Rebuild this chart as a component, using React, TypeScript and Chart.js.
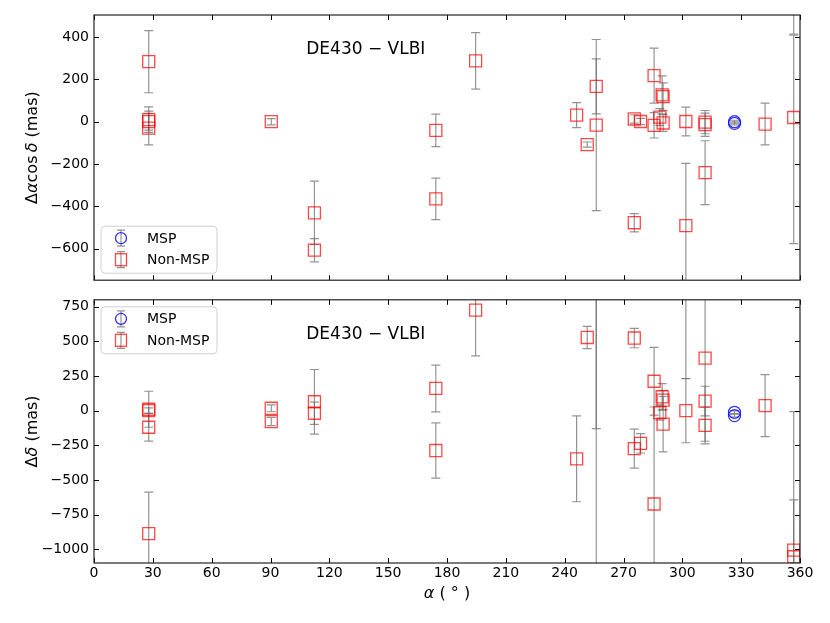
import { useEffect, useRef } from "react";
import { Chart, registerables } from "chart.js";

Chart.register(...registerables);

// ---------- data ----------
const xTicks = [0, 30, 60, 90, 120, 150, 180, 210, 240, 270, 300, 330, 360];
const topYTicks = [-600, -400, -200, 0, 200, 400];
const botYTicks = [-1000, -750, -500, -250, 0, 250, 500, 750];

// Top panel: Δα cos δ (mas), Non-MSP
const topNonX = [27.9, 27.9, 27.9, 27.9, 90.4, 112.4, 112.4, 174.3, 174.3, 194.6, 246.1, 251.5, 256.1, 256.1, 275.5, 275.5, 278.7, 285.6, 285.6, 288.5, 289.7, 290.2, 290.2, 301.8, 301.8, 311.6, 311.6, 311.6, 342.2, 356.8, 356.8];
const topNonY = [284, 10, 0, -30, 0, -431, -608, -41, -365, 288, 31, -108, 167, -16, 13, -478, 1, 218, -17, 22, 127, 119, -6, 1, -492, -2, -14, -241, -11, 20, 1300];
const topNonLo = [147, 60, 40, 80, 15, 150, 55, 77, 98, 134, 59, 12, 130, 405, 20, 43, 15, 130, 60, 40, 90, 65, 40, 68, 295, 55, 55, 151, 99, 597, 885];
const topNonHi = [147, 60, 40, 80, 15, 150, 55, 77, 98, 134, 59, 12, 130, 405, 20, 43, 15, 130, 60, 40, 90, 65, 40, 68, 295, 55, 55, 151, 99, 390, 885];

// Top panel: MSP
const topMspX = [326.6, 326.6];
const topMspY = [0, -8];
const topMspErr = [7, 7];

// Bottom panel: Δδ (mas), Non-MSP
const botNonX = [27.9, 27.9, 27.9, 27.9, 90.4, 90.4, 112.4, 112.4, 174.3, 174.3, 194.6, 246.1, 251.5, 256.1, 256.1, 275.5, 275.5, 278.7, 285.6, 285.6, 288.5, 289.7, 290.2, 290.2, 301.8, 301.8, 311.6, 311.6, 311.6, 342.2, 356.8, 356.8];
const botNonY = [10, 0, -120, -888, 17, -79, 64, -19, 160, -288, 726, -348, 528, 1500, -1400, 524, -274, -236, 212, -674, -14, 100, 76, -98, 0, 1500, 379, 69, -107, 36, -1007, -1055];
const botNonErr = [130, 20, 100, 300, 25, 30, 233, 80, 169, 199, 331, 310, 80, 1630, 2300, 70, 141, 70, 245, 700, 55, 95, 70, 200, 232, 1270, 600, 107, 133, 224, 1000, 410];

// Bottom panel: MSP
const botMspX = [326.6, 326.6];
const botMspY = [-12, -36];
const botMspErr = [10, 10];

// ---------- styles ----------
const FONT = "'DejaVu Sans', 'Liberation Sans', sans-serif";
const RED = "rgba(255,0,0,0.72)";
const BLUE = "rgba(0,0,255,0.8)";
const ERR = "rgba(105,105,105,0.72)";

type Seg = { t: string; it?: boolean };

function drawRich(ctx: CanvasRenderingContext2D, segs: Seg[], size: number, cx: number, cy: number, rot: number) {
  ctx.save();
  ctx.translate(cx, cy);
  ctx.rotate(rot);
  let total = 0;
  const widths = segs.map((s) => {
    ctx.font = `${s.it ? "italic " : ""}${size}px ${FONT}`;
    const w = ctx.measureText(s.t).width;
    total += w;
    return w;
  });
  let x = -total / 2;
  ctx.fillStyle = "#000";
  ctx.textBaseline = "middle";
  ctx.textAlign = "left";
  segs.forEach((s, i) => {
    ctx.font = `${s.it ? "italic " : ""}${size}px ${FONT}`;
    ctx.fillText(s.t, x, 0);
    x += widths[i];
  });
  ctx.restore();
}

function fmt(v: number) {
  return v < 0 ? "\u2212" + Math.abs(v) : String(v);
}

function makeErrPlugin() {
  return {
    id: "errbars",
    beforeDatasetsDraw(chart: any) {
      const { ctx, chartArea: a } = chart;
      const xs = chart.scales.x;
      const ys = chart.scales.y;
      ctx.save();
      ctx.beginPath();
      ctx.rect(a.left, a.top, a.right - a.left, a.bottom - a.top);
      ctx.clip();
      ctx.strokeStyle = ERR;
      ctx.lineWidth = 1.2;
      chart.data.datasets.forEach((ds: any) => {
        ds.data.forEach((p: any, i: number) => {
          const px = xs.getPixelForValue(p.x);
          const y1 = ys.getPixelForValue(p.y + ds.errHi[i]);
          const y2 = ys.getPixelForValue(p.y - ds.errLo[i]);
          ctx.beginPath();
          ctx.moveTo(px, y1);
          ctx.lineTo(px, y2);
          ctx.moveTo(px - 4.5, y1);
          ctx.lineTo(px + 4.5, y1);
          ctx.moveTo(px - 4.5, y2);
          ctx.lineTo(px + 4.5, y2);
          ctx.stroke();
        });
      });
      ctx.restore();
    },
  };
}

function makeDecorPlugin(yTicks: number[], showXLabels: boolean, legendAtBottom: boolean, yTitle: Seg[], xTitle: Seg[] | null) {
  return {
    id: "decor",
    afterDraw(chart: any) {
      const { ctx, chartArea: a } = chart;
      const xs = chart.scales.x;
      const ys = chart.scales.y;
      ctx.save();
      // inward ticks
      ctx.strokeStyle = "#000";
      ctx.lineWidth = 1;
      ctx.beginPath();
      xTicks.forEach((v) => {
        const px = Math.round(xs.getPixelForValue(v)) + 0.5;
        ctx.moveTo(px, a.bottom);
        ctx.lineTo(px, a.bottom - 5);
        ctx.moveTo(px, a.top);
        ctx.lineTo(px, a.top + 5);
      });
      yTicks.forEach((v) => {
        const py = Math.round(ys.getPixelForValue(v)) + 0.5;
        ctx.moveTo(a.left, py);
        ctx.lineTo(a.left + 5, py);
        ctx.moveTo(a.right, py);
        ctx.lineTo(a.right - 5, py);
      });
      ctx.stroke();
      // frame
      ctx.strokeStyle = "#222";
      ctx.lineWidth = 1.2;
      ctx.strokeRect(a.left, a.top, a.right - a.left, a.bottom - a.top);

      // tick labels
      ctx.fillStyle = "#000";
      ctx.font = `14px ${FONT}`;
      ctx.textBaseline = "middle";
      ctx.textAlign = "right";
      yTicks.forEach((v) => {
        ctx.fillText(fmt(v), a.left - 5, ys.getPixelForValue(v));
      });
      if (showXLabels) {
        ctx.textAlign = "center";
        xTicks.forEach((v) => {
          ctx.fillText(fmt(v), xs.getPixelForValue(v), a.bottom + 10);
        });
      }

      // annotation
      ctx.font = `17px ${FONT}`;
      ctx.textAlign = "center";
      ctx.textBaseline = "middle";
      ctx.fillText("DE430 \u2212 VLBI", a.left + (a.right - a.left) * 0.385, a.top + 35);

      // legend
      const lx = a.left + 7;
      const lw = 116;
      const lh = 47;
      const ly = legendAtBottom ? a.bottom - 7 - lh : a.top + 7;
      ctx.beginPath();
      const r = 4;
      ctx.moveTo(lx + r, ly);
      ctx.lineTo(lx + lw - r, ly);
      ctx.quadraticCurveTo(lx + lw, ly, lx + lw, ly + r);
      ctx.lineTo(lx + lw, ly + lh - r);
      ctx.quadraticCurveTo(lx + lw, ly + lh, lx + lw - r, ly + lh);
      ctx.lineTo(lx + r, ly + lh);
      ctx.quadraticCurveTo(lx, ly + lh, lx, ly + lh - r);
      ctx.lineTo(lx, ly + r);
      ctx.quadraticCurveTo(lx, ly, lx + r, ly);
      ctx.closePath();
      ctx.fillStyle = "rgba(255,255,255,0.8)";
      ctx.fill();
      ctx.strokeStyle = "#d0d0d0";
      ctx.lineWidth = 1;
      ctx.stroke();

      const mx = lx + 20;
      const rows = [ly + 12, ly + 33.5];
      rows.forEach((ry, k) => {
        ctx.strokeStyle = ERR;
        ctx.lineWidth = 1.2;
        ctx.beginPath();
        ctx.moveTo(mx, ry - 8);
        ctx.lineTo(mx, ry + 8);
        ctx.moveTo(mx - 4, ry - 8);
        ctx.lineTo(mx + 4, ry - 8);
        ctx.moveTo(mx - 4, ry + 8);
        ctx.lineTo(mx + 4, ry + 8);
        ctx.stroke();
        ctx.lineWidth = 1.3;
        if (k === 0) {
          ctx.strokeStyle = BLUE;
          ctx.beginPath();
          ctx.arc(mx, ry, 5.5, 0, Math.PI * 2);
          ctx.stroke();
        } else {
          ctx.strokeStyle = RED;
          ctx.strokeRect(mx - 5.5, ry - 6, 11, 12);
        }
        ctx.fillStyle = "#000";
        ctx.font = `14px ${FONT}`;
        ctx.textAlign = "left";
        ctx.textBaseline = "middle";
        ctx.fillText(k === 0 ? "MSP" : "Non-MSP", lx + 46, ry + 1);
      });

      // axis titles
      drawRich(ctx, yTitle, 16, 33, (a.top + a.bottom) / 2, -Math.PI / 2);
      if (xTitle) drawRich(ctx, xTitle, 16, (a.left + a.right) / 2, a.bottom + 31, 0);
      ctx.restore();
    },
  };
}

function buildConfig(opts: {
  nonX: number[]; nonY: number[]; nonLo: number[]; nonHi: number[];
  mspX: number[]; mspY: number[]; mspErr: number[];
  yMin: number; yMax: number; yTicks: number[];
  showX: boolean; padTop: number; xHeight: number;
  legendAtBottom: boolean; yTitle: Seg[]; xTitle: Seg[] | null;
}): any {
  return {
    type: "scatter",
    data: {
      datasets: [
        {
          label: "Non-MSP",
          data: opts.nonX.map((x, i) => ({ x, y: opts.nonY[i] })),
          errLo: opts.nonLo,
          errHi: opts.nonHi,
          pointStyle: "rect",
          pointRadius: 8.5,
          pointHoverRadius: 8.5,
          borderColor: RED,
          backgroundColor: "rgba(0,0,0,0)",
          borderWidth: 1.3,
        },
        {
          label: "MSP",
          data: opts.mspX.map((x, i) => ({ x, y: opts.mspY[i] })),
          errLo: opts.mspErr,
          errHi: opts.mspErr,
          pointStyle: "circle",
          pointRadius: 6,
          pointHoverRadius: 6,
          borderColor: BLUE,
          backgroundColor: "rgba(0,0,0,0)",
          borderWidth: 1.3,
        },
      ],
    },
    options: {
      animation: false,
      responsive: false,
      events: [],
      layout: { padding: { left: 0, right: 30, top: opts.padTop, bottom: 0 } },
      plugins: { legend: { display: false }, tooltip: { enabled: false } },
      scales: {
        x: {
          type: "linear",
          min: 0,
          max: 360,
          grid: { display: false, drawTicks: false },
          border: { display: false },
          afterBuildTicks: (s: any) => {
            s.ticks = xTicks.map((v) => ({ value: v }));
          },
          afterFit: (s: any) => {
            s.height = opts.xHeight;
          },
          ticks: { display: false },
        },
        y: {
          type: "linear",
          min: opts.yMin,
          max: opts.yMax,
          grid: { display: false, drawTicks: false },
          border: { display: false },
          afterBuildTicks: (s: any) => {
            s.ticks = opts.yTicks.map((v) => ({ value: v }));
          },
          afterFit: (s: any) => {
            s.width = 94;
          },
          ticks: { display: false },
        },
      },
    },
    plugins: [makeErrPlugin(), makeDecorPlugin(opts.yTicks, opts.showX, opts.legendAtBottom, opts.yTitle, opts.xTitle)],
  };
}

export default function App() {
  const topRef = useRef<HTMLCanvasElement>(null);
  const botRef = useRef<HTMLCanvasElement>(null);

  useEffect(() => {
    const top = new Chart(
      topRef.current as HTMLCanvasElement,
      buildConfig({
        nonX: topNonX, nonY: topNonY, nonLo: topNonLo, nonHi: topNonHi,
        mspX: topMspX, mspY: topMspY, mspErr: topMspErr,
        yMin: -750, yMax: 505, yTicks: topYTicks,
        showX: false, padTop: 15, xHeight: 9,
        legendAtBottom: true,
        yTitle: [{ t: "\u0394" }, { t: "\u03b1", it: true }, { t: "cos\u2009" }, { t: "\u03b4", it: true }, { t: " (mas)" }],
        xTitle: null,
      })
    );
    const bot = new Chart(
      botRef.current as HTMLCanvasElement,
      buildConfig({
        nonX: botNonX, nonY: botNonY, nonLo: botNonErr, nonHi: botNonErr,
        mspX: botMspX, mspY: botMspY, mspErr: botMspErr,
        yMin: -1100, yMax: 800, yTicks: botYTicks,
        showX: true, padTop: 7, xHeight: 60,
        legendAtBottom: false,
        yTitle: [{ t: "\u0394" }, { t: "\u03b4", it: true }, { t: " (mas)" }],
        xTitle: [{ t: "\u03b1", it: true }, { t: " ( \u00b0 )" }],
      })
    );
    return () => {
      top.destroy();
      bot.destroy();
    };
  }, []);

  return (
    <div style={{ position: "absolute", left: 0, top: 0, width: 830, height: 623, background: "#fff" }}>
      <canvas ref={topRef} width={830} height={290} style={{ position: "absolute", left: 0, top: 0, width: 830, height: 290 }} />
      <canvas ref={botRef} width={830} height={333} style={{ position: "absolute", left: 0, top: 290, width: 830, height: 333 }} />
    </div>
  );
}
